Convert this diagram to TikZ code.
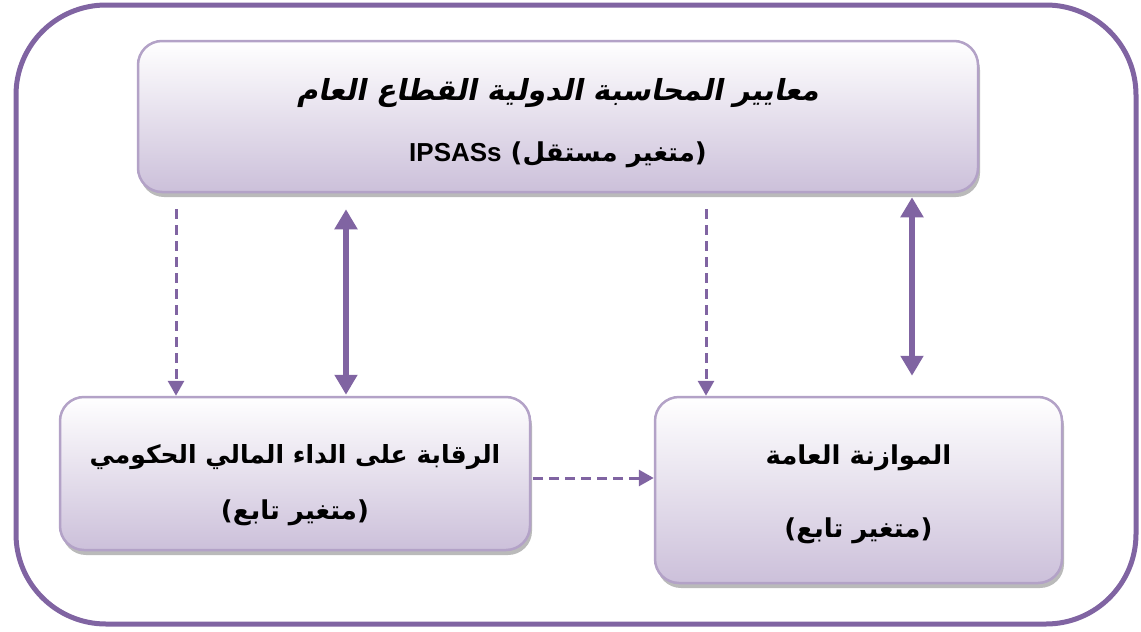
\documentclass[tikz,border=0pt]{standalone}
\usepackage{fontspec}
\usetikzlibrary{arrows.meta,shadows}
\TeXXeTstate=1
\newfontfamily\arabicfont[Script=Arabic]{DejaVu Sans}
\newfontfamily\arabicslant[Script=Arabic,FakeSlant=0.2]{DejaVu Sans}
\setmainfont{Liberation Sans}
\definecolor{frame}{HTML}{8064A2}
\definecolor{boxedge}{HTML}{B3A2C7}
\definecolor{boxlow}{HTML}{CCC0DA}
\tikzset{
  varbox/.style={draw=boxedge, line width=2.5pt, rounded corners=24pt,
    top color=white, bottom color=boxlow,
    drop shadow={shadow xshift=2pt, shadow yshift=-5pt, fill=black!45, opacity=.6}},
  vartext/.style={align=center, inner sep=0pt,
    font=\fontsize{26}{30}\selectfont\bfseries\arabicfont},
  dashlink/.style={draw=frame, line width=3pt, dash pattern=on 10pt off 6pt,
    -{Triangle[width=16pt,length=15pt]}},
  twoway/.style={draw=frame, line width=6pt,
    {Triangle[width=22pt,length=20pt]}-{Triangle[width=22pt,length=20pt]}},
}
\begin{document}
\begin{tikzpicture}[x=1pt,y=-1pt]
\useasboundingbox (0,0) rectangle (1141,632);
\draw[frame, line width=5pt, rounded corners=90pt] (16,5) rectangle (1136,624);

% the three variable boxes
\node[varbox, minimum width=840pt, minimum height=151pt] (std) at (558,116.5) {};
\node[varbox, minimum width=470pt, minimum height=153pt] (ctrl) at (295,473.5) {};
\node[varbox, minimum width=407pt, minimum height=186pt] (bud) at (858.5,490) {};

% their captions
\node[vartext] (stdA) at ([yshift=23pt]std.center)
  {\arabicslant\fontsize{29}{30}\selectfont\beginR معايير المحاسبة الدولية القطاع العام\endR};
\node[vartext] (stdB) at ([yshift=-38pt]std.center)
  {\beginR (متغير مستقل) \beginL\fontspec{Liberation Sans}IPSASs\endL\endR};
\node[vartext, font=\fontsize{25}{30}\selectfont\bfseries\arabicfont] (ctrlA) at ([yshift=16pt]ctrl.center)
  {\beginR الرقابة على الداء المالي الحكومي\endR};
\node[vartext] (ctrlB) at ([yshift=-39pt]ctrl.center) {\beginR (متغير تابع)\endR};
\node[vartext] (budA) at ([yshift=32pt]bud.center) {\beginR الموازنة العامة\endR};
\node[vartext] (budB) at ([yshift=-41pt]bud.center) {\beginR (متغير تابع)\endR};

\coordinate (xa) at (176,0);
\coordinate (xb) at (346,0);
\coordinate (xc) at (706,0);
\coordinate (xd) at (912,0);

\draw[dashlink, shorten <=16pt] (std.south -| xa) -- (ctrl.north -| xa);
\draw[twoway, shorten <=16pt, shorten >=1pt] (std.south -| xb) -- (ctrl.north -| xb);
\draw[dashlink, shorten <=16pt] (std.south -| xc) -- (bud.north -| xc);
\draw[twoway, shorten <=4pt, shorten >=20pt] (std.south -| xd) -- (bud.north -| xd);
\draw[dashlink, shorten <=2pt] (ctrl.east |- 0,478) -- (bud.west |- 0,478);
\end{tikzpicture}
\end{document}
